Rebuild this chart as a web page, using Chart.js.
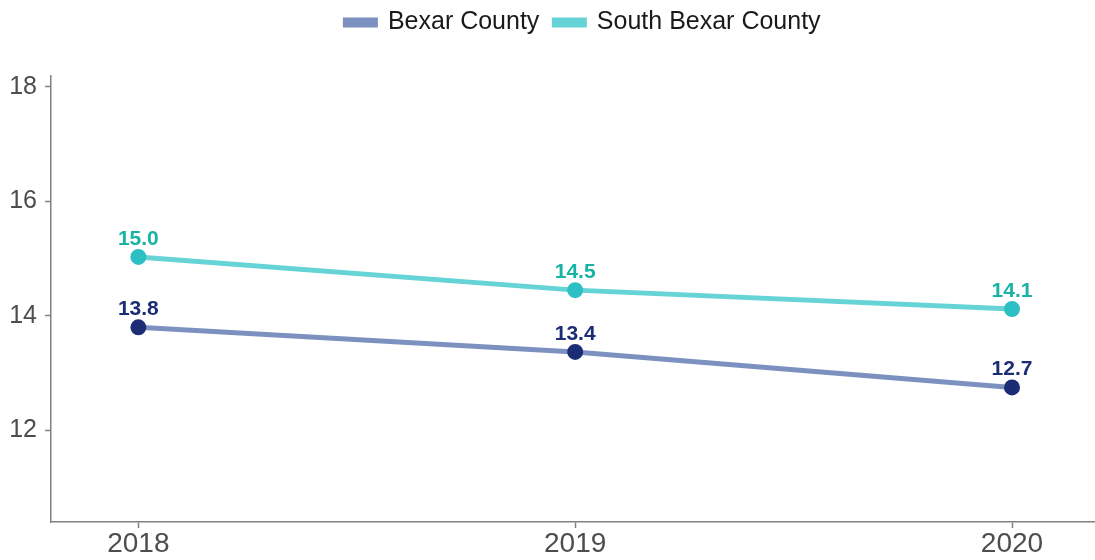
<!DOCTYPE html>
<html>
<head>
<meta charset="utf-8">
<script src="https://cdn.jsdelivr.net/npm/chart.js@4"></script>
<style>
  html, body { margin: 0; padding: 0; background: #fff; }
  #wrap { width: 1095px; height: 560px; }
</style>
</head>
<body>
<div id="wrap"><canvas id="chart"></canvas></div>
<script>
const years = ['2018', '2019', '2020'];
const bexar = [13.8, 13.37, 12.75];
const southBexar = [15.03, 14.45, 14.12];
const bexarLabels = ['13.8', '13.4', '12.7'];
const southLabels = ['15.0', '14.5', '14.1'];
const yTicks = [12, 14, 16, 18];

// point labels drawn above each marker
const valueLabels = {
    id: 'valueLabels',
    afterDatasetsDraw(chart) {
        const ctx = chart.ctx;
        chart.data.datasets.forEach((ds, i) => {
            const meta = chart.getDatasetMeta(i);
            ctx.save();
            ctx.font = "bold 21px 'Liberation Sans', Arial, sans-serif";
            ctx.fillStyle = ds.labelColor;
            ctx.textAlign = 'center';
            ctx.textBaseline = 'middle';
            meta.data.forEach((pt, j) => {
                ctx.fillText(ds.valueText[j], pt.x, pt.y - 18);
            });
            ctx.restore();
        });
    }
};

// extra room under the legend, and nudge it over the panel centre
const legendSpace = {
    id: 'legendSpace',
    beforeInit(chart) {
        const fit = chart.legend.fit;
        chart.legend.fit = function () {
            fit.bind(chart.legend)();
            this.height += 31;
        };
    },
    afterLayout(chart) {
        chart.legend.left += 10;
        chart.legend.right += 10;
    }
};

Chart.defaults.font.family = "'Liberation Sans', Arial, sans-serif";
Chart.defaults.color = '#4d4d4d';

new Chart(document.getElementById('chart'), {
    type: 'line',
    data: {
        datasets: [{
            label: 'Bexar County',
            data: bexar.map((v, i) => ({x: i, y: v})),
            valueText: bexarLabels,
            labelColor: '#1b2d74',
            borderColor: '#7d91c0',
            backgroundColor: '#7d91c0',
            pointBackgroundColor: '#1b2d74',
            pointBorderColor: '#1b2d74',
            borderWidth: 5,
            pointRadius: 5.5,
            tension: 0
        }, {
            label: 'South Bexar County',
            data: southBexar.map((v, i) => ({x: i, y: v})),
            valueText: southLabels,
            labelColor: '#17b3a3',
            borderColor: '#66d3d6',
            backgroundColor: '#66d3d6',
            pointBackgroundColor: '#2cbfc4',
            pointBorderColor: '#2cbfc4',
            borderWidth: 5,
            pointRadius: 5.5,
            tension: 0
        }]
    },
    options: {
        responsive: true,
        maintainAspectRatio: false,
        animation: false,
        layout: { autoPadding: false, padding: { left: 0, right: 0, top: -5, bottom: 0 } },
        plugins: {
            legend: {
                position: 'top',
                fullSize: false,
                labels: {
                    color: '#1a1a1a',
                    font: { size: 25 },
                    boxWidth: 30,
                    boxHeight: 5,
                    padding: 15
                },
                onClick: null
            },
            tooltip: { enabled: false }
        },
        scales: {
            x: {
                type: 'linear',
                min: -0.2,
                max: 2.19,
                border: { color: '#808080', width: 1.5 },
                grid: { drawOnChartArea: false, tickLength: 6, color: '#808080', tickWidth: 1.5 },
                ticks: {
                    stepSize: 1,
                    includeBounds: false,
                    font: { size: 28, lineHeight: 1 },
                    color: '#4d4d4d',
                    padding: 2,
                    callback: v => years[v] ?? ''
                }
            },
            y: {
                min: 10.4,
                max: 18.19,
                border: { color: '#808080', width: 1.5 },
                grid: { drawOnChartArea: false, tickLength: 6, color: '#808080', tickWidth: 1.5 },
                afterBuildTicks: axis => { axis.ticks = yTicks.map(v => ({value: v})); },
                afterFit: axis => { axis.width = 51; },
                ticks: {
                    includeBounds: false,
                    font: { size: 25 },
                    color: '#4d4d4d',
                    padding: 8
                }
            }
        }
    },
    plugins: [valueLabels, legendSpace]
});
</script>
</body>
</html>
